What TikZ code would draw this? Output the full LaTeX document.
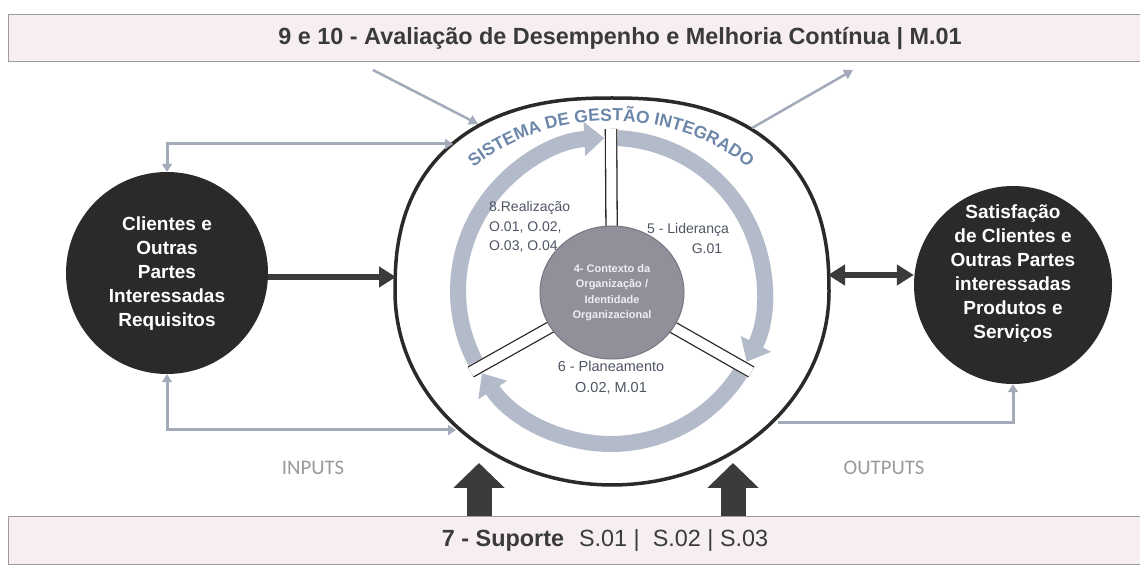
\documentclass[tikz,border=0pt]{standalone}
\usepackage{fontspec}
\setmainfont{Liberation Sans}
\newfontfamily\carlito{Carlito}
\usetikzlibrary{arrows.meta,calc,decorations.text,shapes.geometric}
\pgfdeclarelayer{bg}
\pgfsetlayers{bg,main}
\definecolor{dark}{HTML}{2B2A28}
\definecolor{ringc}{HTML}{B3BAC9}
\definecolor{fbc}{HTML}{A3AABA}
\definecolor{sgi}{HTML}{6D87AA}
\definecolor{lblc}{HTML}{4F5563}
\definecolor{boxfill}{HTML}{F7EFEF}
\definecolor{boxline}{HTML}{9B9B9B}
\definecolor{ctxfill}{HTML}{8F9099}
\definecolor{ctxline}{HTML}{76767E}
\definecolor{ctxtext}{HTML}{EEEEF2}
\definecolor{thickc}{HTML}{3B3B3B}
\definecolor{iog}{HTML}{9A9A9A}
\definecolor{titlec}{HTML}{3A3A3A}
\begin{document}
\begin{tikzpicture}[x=1pt,y=1pt,
  box/.style={draw=boxline, line width=1.2pt, fill=boxfill, rectangle, inner sep=0},
  dcirc/.style={circle, fill=dark, inner sep=0},
  dtext/.style={text=white, font=\bfseries\fontsize{19}{24}\selectfont, align=center, inner sep=0},
  fb/.style={draw=fbc, line width=3pt},
  diag/.style={draw=fbc, line width=2.5pt, -{Triangle[width=10pt,length=9pt]}},
  thk/.style={draw=thickc, line width=6pt},
  fat/.style={draw=thickc, line width=25pt, -{Triangle[width=50pt,length=25pt]}},
  band/.style={draw=ringc, line width=16pt, -{Triangle[width=33pt,length=20pt]}},
  spoke/.style={draw=dark, line width=1.3pt, double=white, double distance=10pt},
  outline/.style={draw=dark, line width=3.5pt, line join=round},
  ctxc/.style={ellipse, fill=ctxfill, draw=ctxline, line width=1pt, minimum width=144, minimum height=133, inner sep=0,
    text=ctxtext, font=\bfseries\fontsize{11}{15.5}\selectfont, align=center},
  lbl/.style={text=lblc, font=\fontsize{14}{19.5}\selectfont, inner sep=0},
  iol/.style={text=iog, font=\carlito\fontsize{20.7}{21}\selectfont, inner sep=0}
]
\useasboundingbox (0,0) rectangle (1140,570);

% boxes
\node[box, minimum width=1142, minimum height=47, anchor=south west] (aval) at (8,508) {};
\node[text=titlec, font=\bfseries\fontsize{23.4}{28}\selectfont, inner sep=0] (avalt) at (620,531.5)
  {9 e 10 - Avaliação de Desempenho e Melhoria Contínua | M.01};
\node[box, minimum width=1142, minimum height=48, anchor=south west] (sup) at (8,5) {};
\node[text=titlec, font=\fontsize{23.4}{28}\selectfont, inner sep=0] (supt) at (605,29)
  {\textbf{7 - Suporte}\hspace{15pt}S.01 |\ \ S.02 | S.03};

% big outline (slightly flattened on top, elliptic below)
\draw[outline] plot[domain=0:180, samples=91, variable=\t]
  ({612+217*sign(cos(\t))*(abs(cos(\t))+0.00001)^0.833}, {278.5+193.5*(abs(sin(\t))+0.00001)^0.833})
  arc[start angle=180, end angle=360, x radius=217, y radius=193.5] -- cycle;
\coordinate (bigW) at (396,293);
\coordinate (bigE) at (828,295);
\coordinate (ring) at (611,279);

% centre
\node[ctxc] (ctx) at (612,277.5) {4- Contexto da\\Organização /\\Identidade\\Organizacional};

\begin{pgfonlayer}{bg}
  \fill[white] (0,0) rectangle (1140,570);
  \draw[band] ($(ring)+(207.5:153)$) arc[start angle=207.5, end angle=92.5, radius=153];
  \draw[band] ($(ring)+(87.5:153)$) arc[start angle=87.5, end angle=-27.5, radius=153];
  \draw[band] ($(ring)+(-32.5:153)$) arc[start angle=-32.5, end angle=-147.5, radius=153];
  \draw[spoke] (ctx.center) -- ($(ring)+(90:162)$);
  \draw[spoke] (ctx.center) -- ($(ring)+(210:162)$);
  \draw[spoke] (ctx.center) -- ($(ring)+(330:162)$);
\end{pgfonlayer}

\path[decorate, decoration={text along path, text align=center, text color=sgi,
  text={|\bfseries\fontsize{17.5}{17.5}\selectfont|SISTEMA DE GESTÃO INTEGRADO}}]
  ($(ring)+(150:200 and 170)$) arc[start angle=150, end angle=30, x radius=200, y radius=170];

\node[lbl, anchor=west, align=left] (l8) at (489,343) {8.Realização\\O.01, O.02,\\O.03, O.04};
\node[lbl, align=center] (l5) at (688,331.5) {5 - Liderança\\\hspace*{38pt}G.01};
\node[lbl, align=center, font=\fontsize{14.5}{21}\selectfont] (l6) at (611,192.5) {6 - Planeamento\\O.02, M.01};

% side circles
\node[dcirc, minimum size=202] (lc) at (167,297) {};
\node[dtext] (lct) at (167,296) {Clientes e\\Outras\\Partes\\Interessadas\\Requisitos};
\node[dcirc, minimum size=198] (rc) at (1013,285) {};
\node[dtext] (rct) at (1013,296.5) {Satisfação\\de Clientes e\\Outras Partes\\interessadas\\Produtos e\\Serviços};

% thick arrows
\draw[thk, -{Triangle[width=20pt,length=17pt]}] (bigW -| lc.east) -- (bigW);
\draw[thk, {Triangle[width=20pt,length=17pt]}-{Triangle[width=20pt,length=17pt]}] (bigE) -- (bigE -| rc.west);

% feedback lines
\coordinate (fbL1) at (453,426);
\coordinate (fbL2) at (456,140);
\coordinate (fbR1) at (778,147);
\draw[fb, {Triangle[width=10pt,length=8pt]}-{Triangle[width=10pt,length=8pt]}] (lc.north) |- (fbL1);
\draw[fb, {Triangle[width=10pt,length=8pt]}-{Triangle[width=10pt,length=8pt]}] (lc.south) |- (fbL2);
\draw[fb, -{Triangle[width=10pt,length=8pt]}] (fbR1) -| (rc.south);

% diagonal arrows
\coordinate (d1s) at (373,500); \coordinate (d1e) at (478,446);
\coordinate (d2s) at (752,442); \coordinate (d2e) at (853,500);
\draw[diag] (d1s) -- (d1e);
\draw[diag] (d2s) -- (d2e);

% support arrows
\coordinate (f1) at (479,107); \coordinate (f2) at (733,107);
\draw[fat] (f1 |- sup.north) -- (f1);
\draw[fat] (f2 |- sup.north) -- (f2);

% IO labels
\node[iol] (inp) at (313,102) {INPUTS};
\node[iol] (outp) at (884,102) {OUTPUTS};
\end{tikzpicture}
\end{document}
